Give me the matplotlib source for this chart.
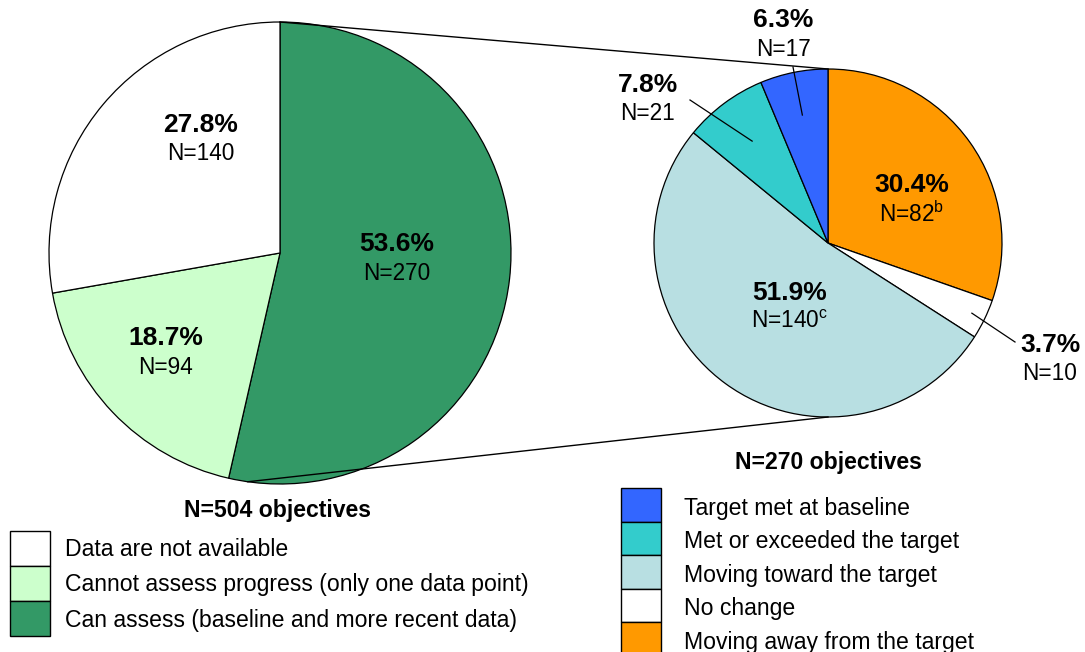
import numpy as np
import matplotlib
matplotlib.use("Agg")
import matplotlib.pyplot as plt
from matplotlib.patches import Rectangle

plt.rcParams["font.family"] = ["Liberation Sans", "DejaVu Sans"]
plt.rcParams["mathtext.fontset"] = "custom"
plt.rcParams["mathtext.rm"] = "Liberation Sans"

# left pie: all objectives
left_labels = ["Can assess (baseline and more recent data)",
               "Cannot assess progress (only one data point)",
               "Data are not available"]
left_counts = [270, 94, 140]
left_pct = ["53.6%", "18.7%", "27.8%"]
left_n = ["N=270", "N=94", "N=140"]
left_colors = ["#339966", "#CCFFCC", "#FFFFFF"]

# right pie: objectives that can be assessed
right_labels = ["Moving away from the target", "No change",
                "Moving toward the target", "Met or exceeded the target",
                "Target met at baseline"]
right_counts = [82, 10, 140, 21, 17]
right_pct = ["30.4%", "3.7%", "51.9%", "7.8%", "6.3%"]
right_n = ["N=82$^{\\rm b}$", "N=10", "N=140$^{\\rm c}$", "N=21", "N=17"]
right_colors = ["#FF9900", "#FFFFFF", "#B8DFE2", "#33CCCC", "#3366FF"]

W, H = 1085, 652
fig = plt.figure(figsize=(W / 100, H / 100), dpi=100)
ax = fig.add_axes([0, 0, 1, 1])

def Y(y):
    return H - y

lc, lr = (280, Y(253)), 231
rc, rr = (828, Y(243)), 174

wl, _ = ax.pie(left_counts, colors=left_colors, startangle=90, counterclock=False,
               center=lc, radius=lr,
               wedgeprops=dict(edgecolor="black", linewidth=0.9))
wr, _ = ax.pie(right_counts, colors=right_colors, startangle=90, counterclock=False,
               center=rc, radius=rr,
               wedgeprops=dict(edgecolor="black", linewidth=0.9))

ax.set_xlim(0, W)
ax.set_ylim(0, H)
ax.set_aspect("auto")
ax.axis("off")

def on_circle(c, r, ang, frac=1.0):
    a = np.deg2rad(ang)
    return c[0] + frac * r * np.cos(a), c[1] + frac * r * np.sin(a)

# connector lines between the pies
p1 = on_circle(lc, lr, 90)
p2 = on_circle(rc, rr, 90)
ax.plot([p1[0], p2[0]], [p1[1], p2[1]], color="black", lw=1)
p3 = on_circle(lc, lr, -98)
p4 = on_circle(rc, rr, -90)
ax.plot([p3[0], p4[0]], [p3[1], p4[1]], color="black", lw=1)

pct_kw = dict(fontsize=19, fontweight="bold", ha="center", va="center")
n_kw = dict(fontsize=16.3, ha="center", va="center")

# left pie labels
left_pos = [(397, 244), (166, 338), (201, 125)]
for (x, y), p, n in zip(left_pos, left_pct, left_n):
    ax.text(x, Y(y), p, **pct_kw)
    ax.text(x, Y(y + 29), n, **n_kw)

# right pie labels
right_pos = [(912, 185), (1050, 345), (790, 293), (648, 85), (783, 20)]
for (x, y), p, n in zip(right_pos, right_pct, right_n):
    ax.text(x, Y(y), p, **pct_kw)
    ax.text(x, Y(y + 29), n, **n_kw)

# leader lines for the small slices
leaders = {1: ((1015, 342), 0.92), 3: ((690, 100), 0.73), 4: ((793, 67), 0.75)}
for i, (end, frac) in leaders.items():
    w = wr[i]
    mid = (w.theta1 + w.theta2) / 2
    ax.plot([on_circle(rc, rr, mid, frac)[0], end[0]],
            [on_circle(rc, rr, mid, frac)[1], Y(end[1])], color="black", lw=0.9)

# titles
ax.text(277, Y(510), "N=504 objectives", fontsize=16.6, fontweight="bold", ha="center", va="center")
ax.text(828, Y(462), "N=270 objectives", fontsize=16.6, fontweight="bold", ha="center", va="center")

# left legend
for k, lab in enumerate(left_labels[::-1]):
    col = left_colors[::-1][k]
    y0 = 531 + k * 35
    ax.add_patch(Rectangle((10, Y(y0 + 35)), 40, 35, facecolor=col, edgecolor="black", lw=1))
    ax.text(65, Y(y0 + 19), lab, fontsize=16.6, ha="left", va="center")

# right legend
for k, lab in enumerate(right_labels[::-1]):
    col = right_colors[::-1][k]
    y0 = 488 + k * 33.6
    ax.add_patch(Rectangle((621, Y(y0 + 33.6)), 40, 33.6, facecolor=col, edgecolor="black", lw=1))
    ax.text(684, Y(y0 + 20), lab, fontsize=16.6, ha="left", va="center")

fig.savefig("out.png", dpi=100)
